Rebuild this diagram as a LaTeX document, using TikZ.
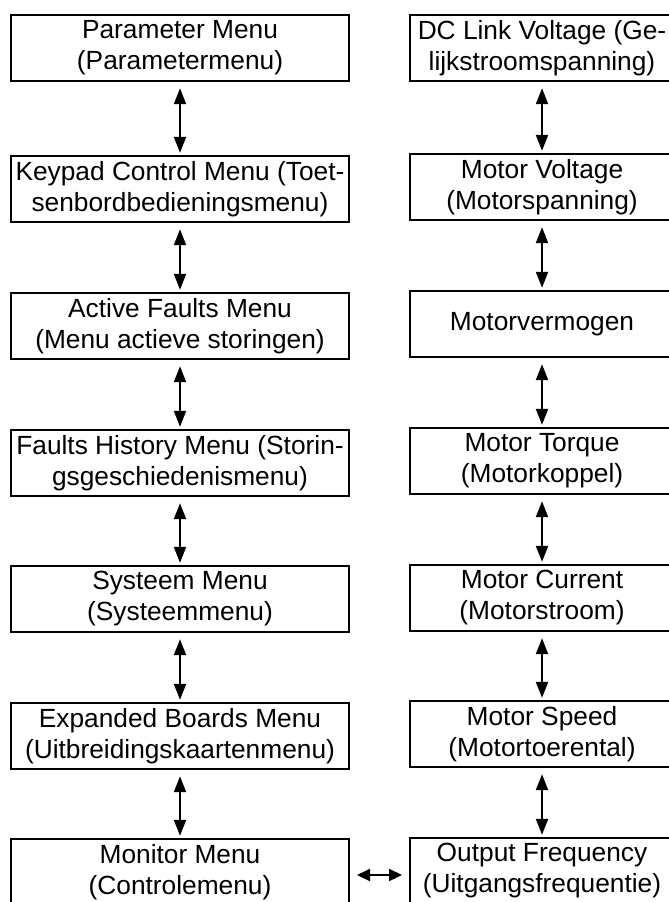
\documentclass[tikz,border=0pt]{standalone}
\usepackage{fontspec}
\setmainfont{Liberation Sans}
\usetikzlibrary{arrows.meta}
\begin{document}
\begin{tikzpicture}[x=1pt,y=-1pt,
  box/.style={draw,line width=2.4pt,inner sep=0pt,align=center,font=\fontsize{26.3}{31}\selectfont},
  lbox/.style={box,minimum width=338pt,minimum height=66pt},
  rbox/.style={box,minimum width=264pt,minimum height=66pt},
  arr/.style={line width=2.2pt,{Triangle[length=16pt,width=12pt]}-{Triangle[length=16pt,width=12pt]},shorten <=6pt,shorten >=2pt},
  harr/.style={line width=2.2pt,{Triangle[length=13pt,width=12pt]}-{Triangle[length=13pt,width=12pt]}}]
\useasboundingbox (0,0) rectangle (669,902);
\clip (0,0) rectangle (669,902);
\node[lbox] (L1) at (180,48) {Parameter Menu\\(Parametermenu)};
\node[lbox] (L2) at (180,189) {Keypad Control Menu (Toet-\\senbordbedieningsmenu)};
\node[lbox] (L3) at (180,326) {Active Faults Menu\\(Menu actieve storingen)};
\node[lbox] (L4) at (180,463) {Faults History Menu (Storin-\\gsgeschiedenismenu)};
\node[lbox] (L5) at (180,599) {Systeem Menu\\(Systeemmenu)};
\node[lbox] (L6) at (180,736) {Expanded Boards Menu\\(Uitbreidingskaartenmenu)};
\node[lbox] (L7) at (180,872) {Monitor Menu\\(Controlemenu)};
\node[rbox] (R1) at (542,48) {DC Link Voltage (Ge-\\lijkstroomspanning)};
\node[rbox] (R2) at (542,187) {Motor Voltage\\(Motorspanning)};
\node[rbox] (R3) at (542,324) {Motorvermogen};
\node[rbox] (R4) at (542,461) {Motor Torque\\(Motorkoppel)};
\node[rbox] (R5) at (542,598) {Motor Current\\(Motorstroom)};
\node[rbox] (R6) at (542,734) {Motor Speed\\(Motortoerental)};
\node[rbox] (R7) at (542,871) {Output Frequency\\(Uitgangsfrequentie)};
\foreach \a/\b in {1/2,2/3,3/4,4/5,5/6,6/7}{
  \draw[arr] (L\a) -- (L\b);
  \draw[arr] (R\a) -- (R\b);
}
\coordinate (hA) at (357,875);
\coordinate (hB) at (402,875);
\draw[harr] (hA) -- (hB);
\end{tikzpicture}
\end{document}
